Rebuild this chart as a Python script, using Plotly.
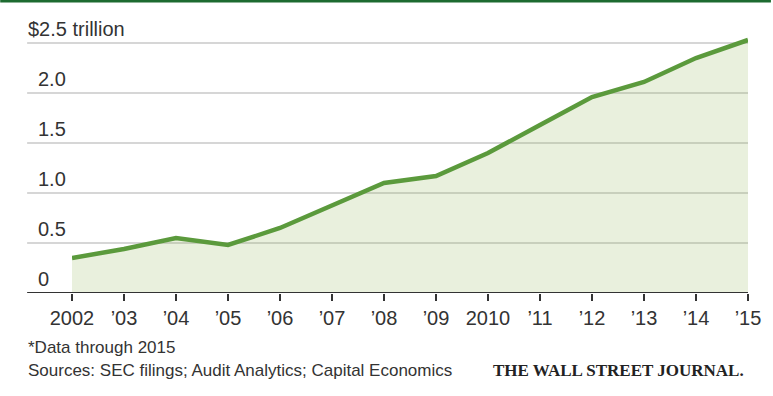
import plotly.graph_objects as go

# Annual values, in trillions of dollars
years = [2002, 2003, 2004, 2005, 2006, 2007, 2008, 2009, 2010, 2011, 2012, 2013, 2014, 2015]
values = [0.35, 0.44, 0.55, 0.48, 0.65, 0.88, 1.10, 1.17, 1.40, 1.68, 1.96, 2.11, 2.35, 2.53]
x_tick_labels = ["2002", "’03", "’04", "’05", "’06", "’07", "’08", "’09", "2010",
                 "’11", "’12", "’13", "’14", "’15"]
y_ticks = [0, 0.5, 1.0, 1.5, 2.0, 2.5]
y_tick_labels = ["0", "0.5", "1.0", "1.5", "2.0", "$2.5 trillion"]

W, H = 773, 396
# the plot area reaches a little above the top gridline so the last point is not clipped
Y_MAX = 2.6
ML, MR, MT, MB = 72, 23, 33, 103
plot_w = W - ML - MR
plot_h = H - MT - MB

def px_to_paper_x(px):
    return (px - ML) / plot_w

def px_to_paper_y(py):
    return (H - MB - py) / plot_h

SANS = "Liberation Sans, Arial, sans-serif"
SERIF = "Liberation Serif, Times New Roman, serif"
TXT = "#333333"

fig = go.Figure()
fig.add_trace(go.Scatter(
    x=years, y=values, mode="lines",
    line=dict(color="#5b9a3c", width=4.5),
    fill="tozeroy", fillcolor="rgba(145,178,85,0.2)",
    hoverinfo="skip", showlegend=False,
))

shapes = []
grid_x0 = px_to_paper_x(27)
for v in y_ticks:
    if v == 0:
        continue
    # gridlines sit beneath the translucent area fill and the line
    shapes.append(dict(type="line", xref="paper", yref="y", x0=grid_x0, x1=1,
                       y0=v, y1=v, line=dict(color="#c9c9c9", width=1.5), layer="below"))
# baseline
shapes.append(dict(type="line", xref="paper", yref="y", x0=grid_x0, x1=1,
                   y0=0, y1=0, line=dict(color="#333333", width=2), layer="above"))
# green rule across the top
shapes.append(dict(type="rect", xref="paper", yref="paper",
                   x0=px_to_paper_x(0), x1=px_to_paper_x(W),
                   y0=px_to_paper_y(2.5), y1=px_to_paper_y(-2),
                   line=dict(width=0), fillcolor="#1d6b30"))

annotations = []
for v, lab in zip(y_ticks, y_tick_labels):
    x_px = 26 if lab.startswith("$") else 36
    annotations.append(dict(
        xref="paper", yref="y", x=px_to_paper_x(x_px), y=v,
        xanchor="left", yanchor="middle", yshift=14,
        text=lab, showarrow=False,
        font=dict(family=SANS, size=20, color=TXT),
    ))

annotations.append(dict(
    xref="paper", yref="paper", x=px_to_paper_x(26), y=px_to_paper_y(347),
    xanchor="left", yanchor="middle", text="*Data through 2015", showarrow=False,
    font=dict(family=SANS, size=17, color=TXT),
))
annotations.append(dict(
    xref="paper", yref="paper", x=px_to_paper_x(26), y=px_to_paper_y(370),
    xanchor="left", yanchor="middle",
    text="Sources: SEC filings; Audit Analytics; Capital Economics", showarrow=False,
    font=dict(family=SANS, size=17, color=TXT),
))
annotations.append(dict(
    xref="paper", yref="paper", x=px_to_paper_x(748), y=px_to_paper_y(370),
    xanchor="right", yanchor="middle",
    text="<b>THE WALL STREET JOURNAL.</b>", showarrow=False,
    font=dict(family=SERIF, size=17, color="#222222"),
))

fig.update_layout(
    width=W, height=H,
    margin=dict(l=ML, r=MR, t=MT, b=MB, pad=0),
    paper_bgcolor="white", plot_bgcolor="white",
    shapes=shapes, annotations=annotations,
    xaxis=dict(
        range=[2002, 2015], tickvals=years, ticktext=x_tick_labels,
        showgrid=False, zeroline=False, showline=False,
        ticks="outside", ticklen=7, tickwidth=2, tickcolor="#333333",
        tickfont=dict(family=SANS, size=20, color=TXT),
        fixedrange=True,
    ),
    yaxis=dict(
        range=[0, Y_MAX], showgrid=False, zeroline=False, showline=False,
        showticklabels=False, ticks="", fixedrange=True,
    ),
)

fig.write_html("out.html")
